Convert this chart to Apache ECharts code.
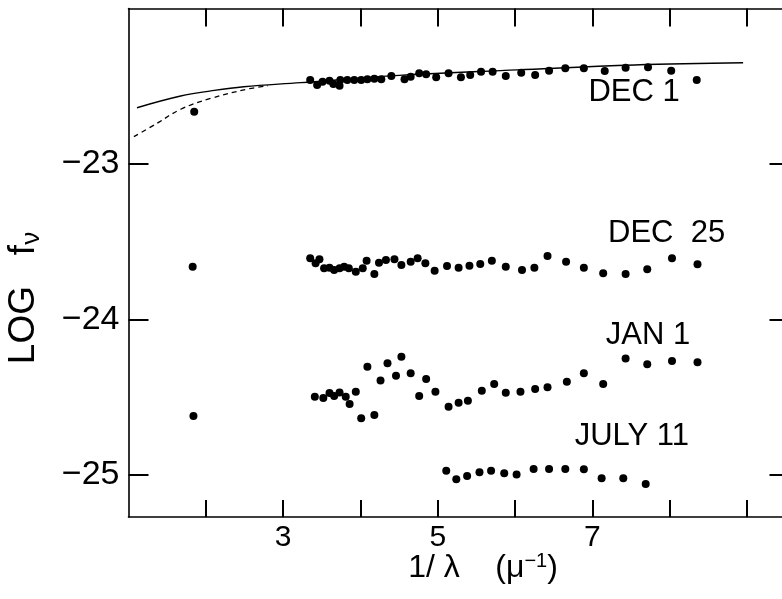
<!DOCTYPE html>
<html>
<head>
<meta charset="utf-8">
<script src="https://cdn.jsdelivr.net/npm/echarts@6/dist/echarts.min.js"></script>
<style>
html,body{margin:0;padding:0;background:#fff;overflow:hidden;}
#c{width:782px;height:599px;}
</style>
</head>
<body>
<div id="c"></div>
<script>
// ---- data (1/lambda in mu^-1, log f_nu) ----
const dec1X = [3.35,3.44,3.51,3.60,3.65,3.73,3.74,3.83,3.92,4.01,4.09,4.18,4.27,4.40,4.57,4.65,4.76,4.85,4.98,5.14,5.30,5.42,5.56,5.71,5.88,6.08,6.26,6.44,6.65,6.89,7.16,7.43,7.72,8.02,8.35,1.85];
const dec1Y = [-22.46,-22.492,-22.471,-22.464,-22.486,-22.496,-22.46,-22.46,-22.46,-22.46,-22.455,-22.451,-22.455,-22.434,-22.455,-22.439,-22.417,-22.423,-22.442,-22.417,-22.442,-22.428,-22.406,-22.406,-22.434,-22.413,-22.428,-22.40,-22.385,-22.385,-22.402,-22.381,-22.378,-22.40,-22.46,-22.664];

const dec25X = [1.83,3.35,3.42,3.47,3.53,3.60,3.66,3.73,3.79,3.85,3.94,4.03,4.08,4.18,4.24,4.33,4.44,4.53,4.65,4.74,4.84,4.96,5.12,5.27,5.41,5.55,5.70,5.88,6.09,6.25,6.42,6.66,6.89,7.14,7.43,7.71,8.03,8.36];
const dec25Y = [-23.66,-23.606,-23.639,-23.613,-23.671,-23.667,-23.682,-23.671,-23.660,-23.671,-23.693,-23.671,-23.622,-23.707,-23.635,-23.617,-23.613,-23.650,-23.628,-23.606,-23.639,-23.686,-23.656,-23.667,-23.654,-23.643,-23.622,-23.660,-23.682,-23.667,-23.592,-23.628,-23.667,-23.703,-23.707,-23.677,-23.606,-23.645];

const jan1X = [1.84,3.41,3.52,3.60,3.66,3.73,3.81,3.86,3.94,4.01,4.09,4.18,4.26,4.35,4.46,4.53,4.65,4.76,4.85,4.97,5.14,5.27,5.39,5.57,5.73,5.88,6.07,6.26,6.42,6.67,6.89,7.14,7.43,7.71,8.03,8.36];
const jan1Y = [-24.62,-24.496,-24.505,-24.473,-24.492,-24.469,-24.496,-24.543,-24.464,-24.635,-24.304,-24.614,-24.392,-24.282,-24.361,-24.239,-24.346,-24.492,-24.383,-24.464,-24.561,-24.535,-24.522,-24.458,-24.415,-24.471,-24.464,-24.447,-24.436,-24.40,-24.346,-24.415,-24.25,-24.288,-24.267,-24.275];

const jul11X = [5.11,5.24,5.38,5.54,5.69,5.86,6.02,6.24,6.44,6.65,6.89,7.12,7.40,7.69];
const jul11Y = [-24.972,-25.028,-25.006,-24.983,-24.972,-24.989,-24.996,-24.961,-24.961,-24.961,-24.963,-25.021,-25.021,-25.058];

// model curves
const solidX = [1.11,1.675,2.065,2.49,3.23,4.5,6.03,7.55,8.95];
const solidY = [-22.638,-22.563,-22.53,-22.503,-22.477,-22.43,-22.395,-22.363,-22.349];
const dashX = [1.07,1.37,1.675,2.065,2.54,2.8];
const dashY = [-22.824,-22.738,-22.648,-22.578,-22.518,-22.497];

// curve labels
const labelNames = ['DEC 1','DEC  25','JAN 1','JULY 11'];
const labelX = [7.54,7.96,7.72,7.51];
const labelY = [-22.543,-23.446,-24.10,-24.754];

// ticks
const xTicks = [2,3,4,5,6,7,8,9];
const xTickLabels = [3,5,7];
const yTicks = [-25,-24,-23];

const zip = (a,b) => a.map((v,i)=>[v,b[i]]);
const FONT = 'Liberation Sans';

const chart = echarts.init(document.getElementById('c'), null, {renderer:'canvas'});

const axisCommon = {
  axisLine:{show:true,lineStyle:{color:'#000',width:1.6}},
  splitLine:{show:false}
};

const dotSeries = (x,y) => ({
  type:'scatter', xAxisIndex:0, yAxisIndex:0,
  data: zip(x,y), symbol:'circle', symbolSize:8,
  itemStyle:{color:'#000', opacity:1}, silent:true, z:3
});

chart.setOption({
  animation:false,
  backgroundColor:'#fff',
  grid:{left:128.5, width:661, top:8.5, height:508.5, containLabel:false, outerBoundsMode:'none'},
  xAxis:[
    Object.assign({}, axisCommon, {
      type:'value', position:'bottom', min:1, max:9.55,
      axisTick:{show:true, inside:true, length:17, customValues:xTicks, lineStyle:{color:'#000',width:2}},
      axisLabel:{show:true, customValues:xTickLabels, margin:6, color:'#000', fontFamily:FONT, fontSize:30},
    }),
    Object.assign({}, axisCommon, {
      type:'value', position:'top', min:1, max:9.55,
      axisTick:{show:true, inside:true, length:18, customValues:xTicks, lineStyle:{color:'#000',width:2}},
      axisLabel:{show:false}
    })
  ],
  yAxis:[
    Object.assign({}, axisCommon, {
      type:'value', position:'left', min:-25.27, max:-22,
      axisTick:{show:true, inside:true, length:20, customValues:yTicks, lineStyle:{color:'#000',width:2}},
      axisLabel:{show:true, customValues:yTicks, margin:9, color:'#000', fontFamily:FONT, fontSize:34,
        formatter: v => '\u2212' + Math.abs(v)}
    }),
    {
      type:'value', position:'right', min:-25.27, max:-22,
      axisLine:{show:false}, splitLine:{show:false},
      axisTick:{show:true, inside:true, length:20, customValues:yTicks, lineStyle:{color:'#000',width:2}},
      axisLabel:{show:false}
    }
  ],
  series:[
    {
      type:'line', data:zip(solidX,solidY), smooth:0.4, showSymbol:false, symbol:'none',
      lineStyle:{color:'#000', width:1.4}, z:2, silent:true
    },
    {
      type:'line', data:zip(dashX,dashY), smooth:0.4, showSymbol:false, symbol:'none',
      lineStyle:{color:'#000', width:1.3, type:[5,4]}, z:2, silent:true
    },
    dotSeries(dec1X,dec1Y),
    dotSeries(dec25X,dec25Y),
    dotSeries(jan1X,jan1Y),
    dotSeries(jul11X,jul11Y),
    {
      type:'scatter', symbolSize:0, silent:true, z:4,
      itemStyle:{opacity:1},
      data: labelNames.map((n,i)=>({name:n, value:[labelX[i],labelY[i]]})),
      label:{show:true, position:'inside', formatter:p=>p.name, color:'#000', opacity:1, fontFamily:FONT, fontSize:31}
    }
  ],
  graphic:[
    {
      type:'text', x:483, y:568,
      style:{
        text:'1/ \u03bb    (\u03bc{sup|\u22121})',
        fill:'#000', font:'32px "' + FONT + '"', align:'center', verticalAlign:'middle',
        rich:{sup:{fontSize:20, fontFamily:FONT, verticalAlign:'top', padding:[0,0,14,0], fill:'#000'}}
      }
    },
    {
      type:'text', x:24, y:298, rotation:Math.PI/2,
      style:{
        text:'LOG   f{sub|\u03bd}',
        fill:'#000', font:'37px "' + FONT + '"', align:'center', verticalAlign:'middle',
        rich:{sub:{fontSize:26, fontFamily:FONT, padding:[16,0,0,0], fill:'#000'}}
      }
    }
  ]
});
</script>
</body>
</html>
